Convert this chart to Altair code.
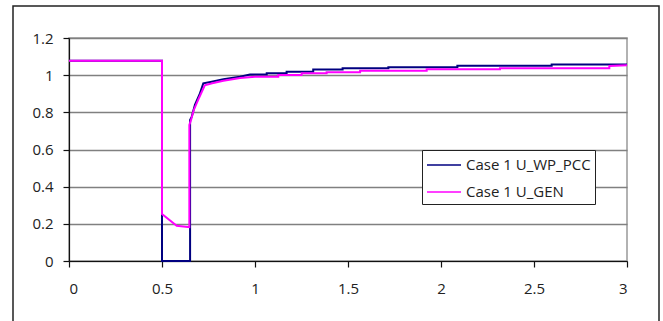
import altair as alt
import pandas as pd

# Case 1 U_WP_PCC
t_pcc = [0, 0.5, 0.5, 0.651, 0.651, 0.66, 0.677, 0.704, 0.722, 0.767, 0.83, 0.919, 0.973,
         1.063, 1.063, 1.17, 1.17, 1.313, 1.313, 1.471, 1.471, 1.717, 1.717, 2.088, 2.088,
         2.595, 2.595, 3.0]
v_pcc = [1.077, 1.077, 0.0, 0.0, 0.759, 0.777, 0.84, 0.902, 0.956, 0.965, 0.978, 0.992, 1.003,
         1.003, 1.010, 1.010, 1.019, 1.019, 1.030, 1.030, 1.037, 1.037, 1.043, 1.043, 1.051,
         1.051, 1.058, 1.058]

# Case 1 U_GEN
t_gen = [0, 0.5, 0.5, 0.579, 0.647, 0.647, 0.655, 0.67, 0.70, 0.73, 0.77, 0.83, 0.92, 1.0,
         1.125, 1.125, 1.251, 1.251, 1.385, 1.385, 1.565, 1.565, 1.923, 1.923, 2.317, 2.317,
         2.905, 2.905, 3.0]
v_gen = [1.077, 1.077, 0.253, 0.19, 0.182, 0.732, 0.755, 0.81, 0.88, 0.945, 0.956, 0.97, 0.985,
         0.992, 0.992, 1.001, 1.001, 1.010, 1.010, 1.016, 1.016, 1.024, 1.024, 1.032, 1.032,
         1.037, 1.037, 1.049, 1.053]

series_names = ["Case 1 U_WP_PCC", "Case 1 U_GEN"]
series_colors = ["#000080", "#FF00FF"]
x_ticks = [0, 0.5, 1, 1.5, 2, 2.5, 3]
y_ticks = [0, 0.2, 0.4, 0.6, 0.8, 1.0, 1.2]

df_pcc = pd.DataFrame({"t": t_pcc, "v": v_pcc, "series": series_names[0],
                       "i": range(len(t_pcc))})
df_gen = pd.DataFrame({"t": t_gen, "v": v_gen, "series": series_names[1],
                       "i": range(len(t_gen))})

FONT = "Open Sans"

color = alt.Color("series:N",
                  scale=alt.Scale(domain=series_names, range=series_colors),
                  legend=alt.Legend(title=None, orient="none", legendX=353, legendY=112,
                                    symbolType="M-1.7,0H1.7", symbolSize=400,
                                    symbolStrokeWidth=1.5, symbolOffset=7,
                                    labelFont=FONT, labelFontSize=15, labelColor="#222",
                                    fillColor="white", strokeColor="#222", padding=4,
                                    rowPadding=8, labelOffset=11))

x = alt.X("t:Q", scale=alt.Scale(domain=[0, 3], nice=False),
          axis=alt.Axis(values=x_ticks, title=None, grid=False, format="~g",
                        labelPadding=14, tickSize=6, labelFont=FONT, labelFontSize=15,
                        labelColor="#222"))
y = alt.Y("v:Q", scale=alt.Scale(domain=[0, 1.2], nice=False),
          axis=alt.Axis(values=y_ticks, title=None, grid=True, format="~g",
                        labelPadding=10, tickSize=6, labelFont=FONT, labelFontSize=15,
                        labelColor="#222"))

l1 = alt.Chart(df_pcc).mark_line(strokeWidth=2).encode(x=x, y=y, color=color, order="i:Q")
l2 = alt.Chart(df_gen).mark_line(strokeWidth=2).encode(x=x, y=y, color=color, order="i:Q")

frame = alt.Chart(pd.DataFrame({"a": [0]})).mark_rect(
    fill=None, stroke="#222", strokeWidth=1.5, clip=False
).encode(x=alt.value(-56), x2=alt.value(590), y=alt.value(-32), y2=alt.value(320))

chart = alt.layer(frame, l1, l2).properties(
    width=558, height=223,
    background="white",
    autosize=alt.AutoSizeParams(type="none"),
    padding={"left": 69, "top": 38, "right": 36, "bottom": 60},
).configure_view(stroke="#999", strokeWidth=1.5).configure_axis(
    domainColor="#111", tickColor="#111", gridColor="#808080", gridWidth=1.5,
    domainWidth=1.2, tickWidth=1.2
)

chart.save("out.html", embed_options={"renderer": "svg", "actions": False})
